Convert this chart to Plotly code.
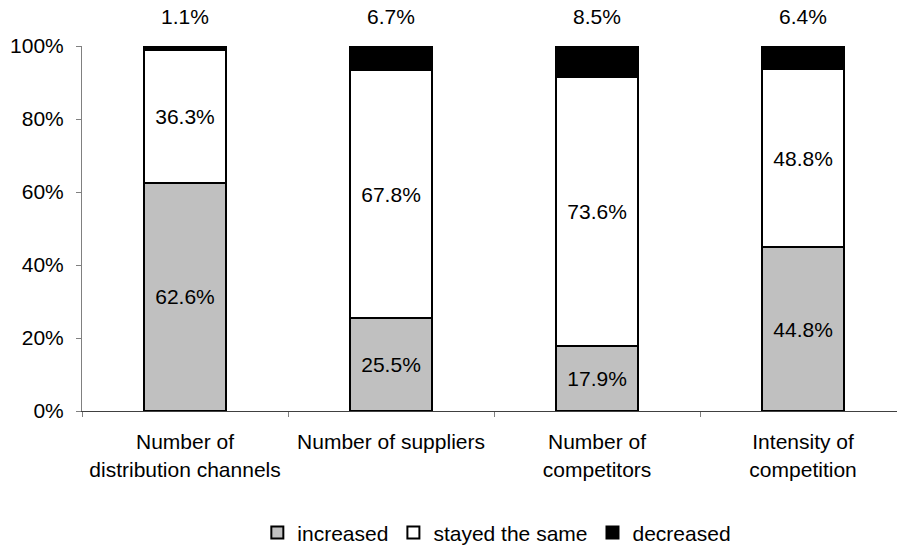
import plotly.graph_objects as go

# Survey results: share of respondents per change direction
categories = [
    "Number of<br>distribution channels",
    "Number of suppliers",
    "Number of<br>competitors",
    "Intensity of<br>competition",
]
increased = [62.6, 25.5, 17.9, 44.8]
stayed_same = [36.3, 67.8, 73.6, 48.8]
decreased = [1.1, 6.7, 8.5, 6.4]

FONT = "Liberation Sans, Arial, sans-serif"
FS = 21

fig = go.Figure()


def pct(values):
    return [f"{v:.1f}%" for v in values]


fig.add_trace(go.Bar(
    name="increased", x=categories, y=increased,
    text=pct(increased), textposition="inside", insidetextanchor="middle",
    marker=dict(color="#C0C0C0", line=dict(color="black", width=2)),
))
fig.add_trace(go.Bar(
    name="stayed the same", x=categories, y=stayed_same,
    text=pct(stayed_same), textposition="inside", insidetextanchor="middle",
    marker=dict(color="white", line=dict(color="black", width=2)),
))
fig.add_trace(go.Bar(
    name="decreased", x=categories, y=decreased,
    marker=dict(color="black", line=dict(color="black", width=2)),
))

# "decreased" shares sit above each stack
for cat, inc, same, dec in zip(categories, increased, stayed_same, decreased):
    fig.add_annotation(
        x=cat, y=inc + same + dec, text=f"{dec:.1f}%",
        showarrow=False, yanchor="bottom", yshift=16,
        font=dict(family=FONT, size=FS, color="black"),
    )

fig.update_traces(textfont=dict(family=FONT, size=FS, color="black"),
                  insidetextfont=dict(family=FONT, size=FS, color="black"),
                  cliponaxis=False)

fig.update_layout(
    width=897, height=546,
    margin=dict(l=82, r=0, t=46, b=135, autoexpand=False),
    barmode="stack", bargap=0.6,
    plot_bgcolor="white", paper_bgcolor="white",
    font=dict(family=FONT, size=FS, color="black"),
    uniformtext=dict(minsize=FS, mode="show"),
    showlegend=True,
    legend=dict(
        orientation="h", x=0.509, xanchor="center",
        yref="container", y=0.024, yanchor="middle",
        font=dict(family=FONT, size=FS, color="black"),
        traceorder="normal", itemwidth=30, tracegroupgap=0,
    ),
    xaxis=dict(
        range=[-0.5, 3.456], showline=True, linecolor="#404040", linewidth=1,
        ticks="outside", tickson="boundaries", ticklen=5, tickcolor="#808080",
        ticklabelstandoff=12, automargin=False,
        showgrid=False, zeroline=False,
    ),
    yaxis=dict(
        range=[0, 100], tickvals=[0, 20, 40, 60, 80, 100],
        ticktext=["0%", "20%", "40%", "60%", "80%", "100%"],
        showline=True, linecolor="#808080", linewidth=1,
        ticks="outside", ticklen=5, tickcolor="#808080",
        ticklabelstandoff=8, automargin=False,
        showgrid=False, zeroline=False,
    ),
)

fig.write_html("out.html", config={"displayModeBar": False})
